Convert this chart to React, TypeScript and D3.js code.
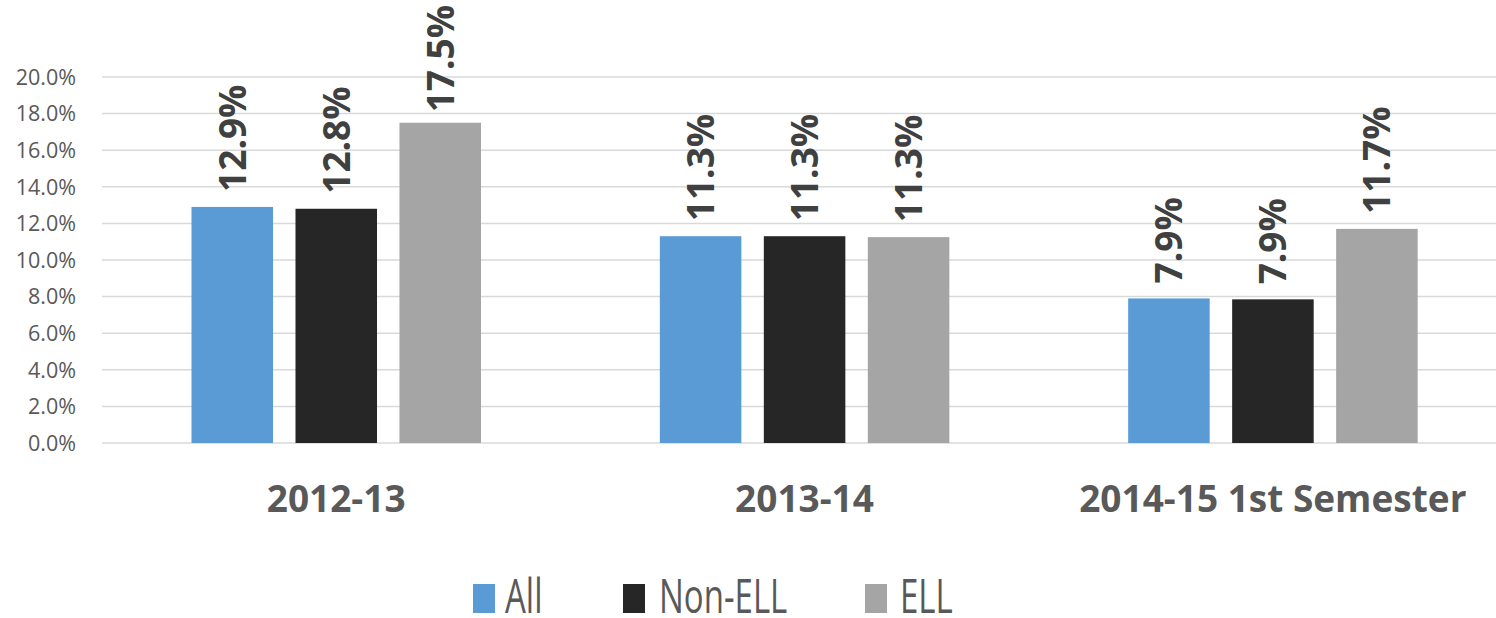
import React from "react";
import * as d3 from "d3";

const categories = ["2012-13", "2013-14", "2014-15 1st Semester"];
const seriesNames = ["All", "Non-ELL", "ELL"];
const allValues = [12.9, 11.3, 7.9];
const nonEllValues = [12.8, 11.3, 7.85];
const ellValues = [17.5, 11.25, 11.7];
const labelTexts = [
  ["12.9%", "11.3%", "7.9%"],
  ["12.8%", "11.3%", "7.9%"],
  ["17.5%", "11.3%", "11.7%"],
];
const yTicks = [0, 2, 4, 6, 8, 10, 12, 14, 16, 18, 20];
const colors = ["#5B9BD5", "#262626", "#A5A5A5"];

const W = 1496;
const H = 618;
const font = "'Open Sans', 'DejaVu Sans', sans-serif";

export default function App() {
  const series = [allValues, nonEllValues, ellValues];
  const y = d3.scaleLinear().domain([0, 20]).range([443, 77]);
  const x0 = d3.scaleBand<string>().domain(categories).range([102, 1507]);
  const x1 = d3
    .scaleBand<number>()
    .domain([0, 1, 2])
    .range([89.5, 379])
    .paddingInner(0.216)
    .paddingOuter(0);
  const labelSize = 37;
  const legendItems = [
    { rx: 473, tx: 505 },
    { rx: 623, tx: 659 },
    { rx: 865, tx: 900 },
  ];

  return (
    <svg
      width={W}
      height={H}
      style={{ position: "absolute", left: 0, top: 0, display: "block", background: "#fff" }}
    >
      <rect x={0} y={0} width={W} height={H} fill="#fff" />
      {yTicks.map((t) => (
        <g key={t}>
          <line x1={102} x2={W} y1={y(t)} y2={y(t)} stroke="#D9D9D9" strokeWidth={1.5} />
          <text
            x={76}
            y={y(t)}
            dy="0.36em"
            textAnchor="end"
            fontFamily={font}
            fontSize={21.5}
            fill="#595959"
          >
            {t.toFixed(1) + "%"}
          </text>
        </g>
      ))}
      {categories.map((c, ci) => (
        <g key={c} transform={`translate(${x0(c)},0)`}>
          {series.map((vals, si) => {
            const bx = x1(si)!;
            const bw = x1.bandwidth();
            const top = y(vals[ci]);
            const txt = labelTexts[si][ci];
            const estLen = txt.length * 0.58 * labelSize;
            const startY = Math.max(top - 15, 5 + estLen);
            return (
              <g key={si}>
                <rect x={bx} y={top} width={bw} height={y(0) - top} fill={colors[si]} />
                <text
                  transform={`translate(${bx + bw / 2},${startY}) rotate(-90)`}
                  dy="0.36em"
                  textAnchor="start"
                  fontFamily={font}
                  fontWeight="bold"
                  fontSize={labelSize}
                  fill="#404040"
                >
                  {txt}
                </text>
              </g>
            );
          })}
          <text
            x={x0.bandwidth() / 2}
            y={512}
            textAnchor="middle"
            fontFamily={font}
            fontWeight="bold"
            fontSize={37}
            fill="#595959"
          >
            {c}
          </text>
        </g>
      ))}
      {seriesNames.map((n, i) => (
        <g key={n}>
          <rect x={legendItems[i].rx} y={584} width={22} height={29} fill={colors[i]} />
          <text
            transform={`translate(${legendItems[i].tx},613) scale(1,1.45)`}
            fontFamily={font}
            fontSize={33}
            fill="#595959"
          >
            {n}
          </text>
        </g>
      ))}
    </svg>
  );
}
